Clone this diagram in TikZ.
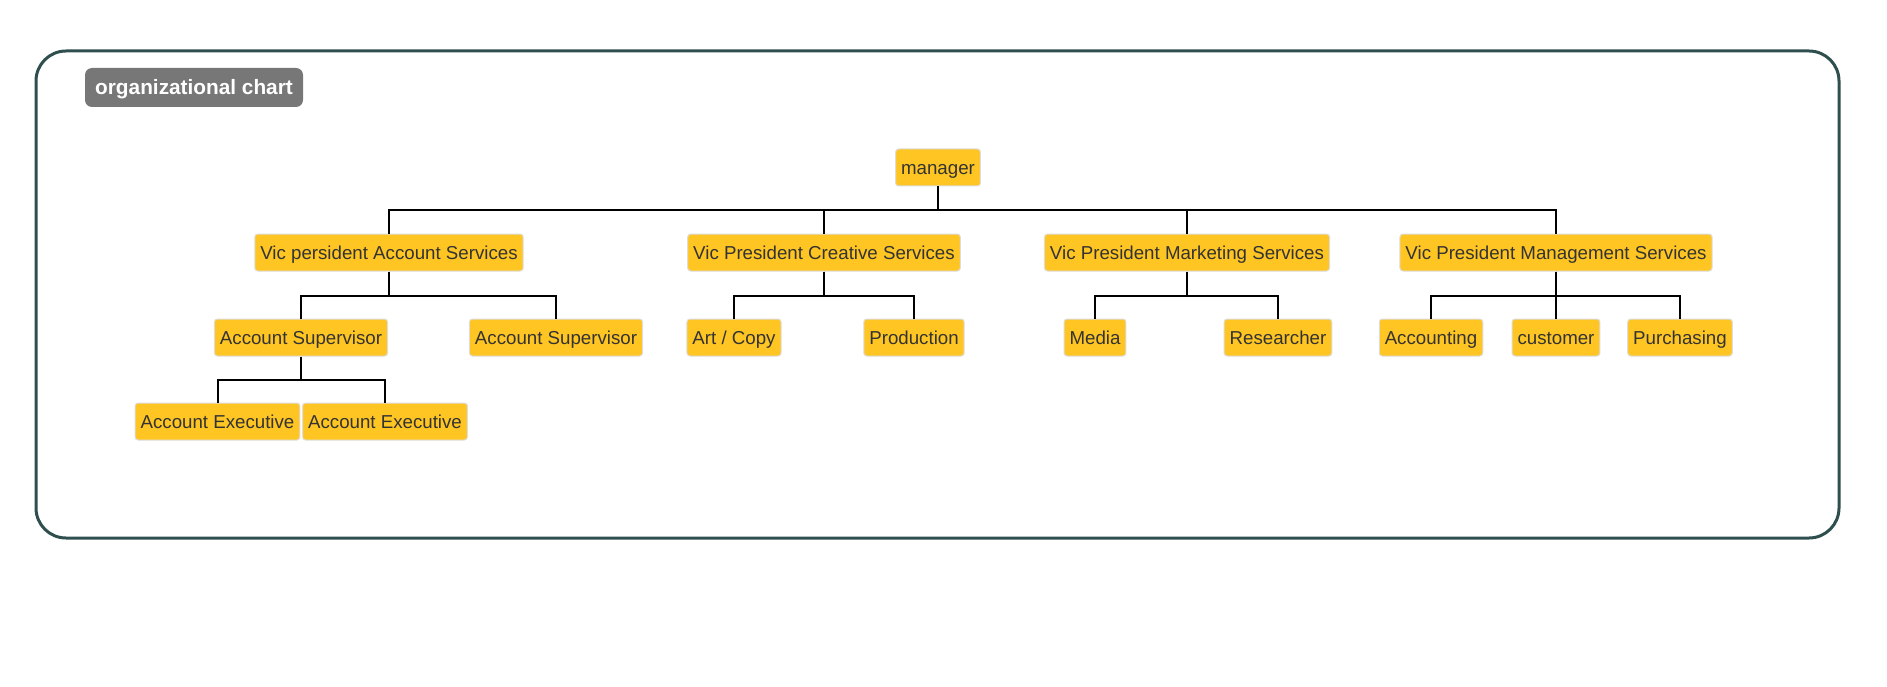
\documentclass[tikz,border=0pt]{standalone}
\usepackage{fontspec}
\setmainfont{Liberation Sans}
\usetikzlibrary{positioning, calc}
\definecolor{orgFrame}{HTML}{2F4F4F}
\definecolor{orgBadge}{HTML}{777777}
\definecolor{orgBox}{HTML}{FFC522}
\definecolor{orgBoxLine}{HTML}{DDDDDD}
\definecolor{orgText}{HTML}{333333}

\begin{document}
\begin{tikzpicture}[x=1pt, y=-1pt,
    unit/.style={draw=orgBoxLine, line width=1pt, fill=orgBox, rounded corners=3pt,
                 minimum height=37pt, inner xsep=5.5pt, inner ysep=0pt, text=orgText,
                 text height=15.7pt, text depth=2.1pt,
                 font=\fontsize{18.7}{22}\selectfont},
    link/.style={draw=black, line width=2pt}]
    \useasboundingbox (0,0) rectangle (1887,687);
    \draw[orgFrame, line width=3pt, rounded corners=30pt] (36,51) rectangle (1839,538);
    \node[fill=orgBadge, rounded corners=7pt, minimum width=218pt, minimum height=39pt,
          text height=17pt, text depth=2pt, text=white,
          font=\bfseries\fontsize{20.8}{24}\selectfont] (title)
          at (194,87.5) {organizational chart};
    % top
    \node[unit] (mgr) at (938,167.5) {manager};
    % vice presidents
    \node[unit] (vpAcc) at (389,252.5) {Vic persident Account Services};
    \node[unit] (vpCre) at (824,252.5) {Vic President Creative Services};
    \node[unit] (vpMkt) at (1187,252.5) {Vic President Marketing Services};
    \node[unit] (vpMgt) at (1556,252.5) {Vic President Management Services};
    % second level
    \node[unit] (supA) at (301,337.5) {Account Supervisor};
    \node[unit] (supB) at (556,337.5) {Account Supervisor};
    \node[unit] (art) at (734,337.5) {Art / Copy};
    \node[unit] (prod) at (914,337.5) {Production};
    \node[unit] (media) at (1095,337.5) {Media};
    \node[unit] (res) at (1278,337.5) {Researcher};
    \node[unit] (acct) at (1431,337.5) {Accounting};
    \node[unit] (cust) at (1556,337.5) {customer};
    \node[unit] (purch) at (1680,337.5) {Purchasing};
    % third level
    \node[unit] (execA) at (217.5,421.5) {Account Executive};
    \node[unit] (execB) at (385,421.5) {Account Executive};
    % connectors
    \draw[link] (mgr.south) -- ++(0,24) -| (vpAcc.north);
    \draw[link] (mgr.south) -- ++(0,24) -| (vpCre.north);
    \draw[link] (mgr.south) -- ++(0,24) -| (vpMkt.north);
    \draw[link] (mgr.south) -- ++(0,24) -| (vpMgt.north);
    \draw[link] (vpAcc.south) -- ++(0,24) -| (supA.north);
    \draw[link] (vpAcc.south) -- ++(0,24) -| (supB.north);
    \draw[link] (vpCre.south) -- ++(0,24) -| (art.north);
    \draw[link] (vpCre.south) -- ++(0,24) -| (prod.north);
    \draw[link] (vpMkt.south) -- ++(0,24) -| (media.north);
    \draw[link] (vpMkt.south) -- ++(0,24) -| (res.north);
    \draw[link] (vpMgt.south) -- ++(0,24) -| (acct.north);
    \draw[link] (vpMgt.south) -- (cust.north);
    \draw[link] (vpMgt.south) -- ++(0,24) -| (purch.north);
    \draw[link] (supA.south) -- ++(0,23.5) -| (execA.north);
    \draw[link] (supA.south) -- ++(0,23.5) -| (execB.north);
\end{tikzpicture}
\end{document}
